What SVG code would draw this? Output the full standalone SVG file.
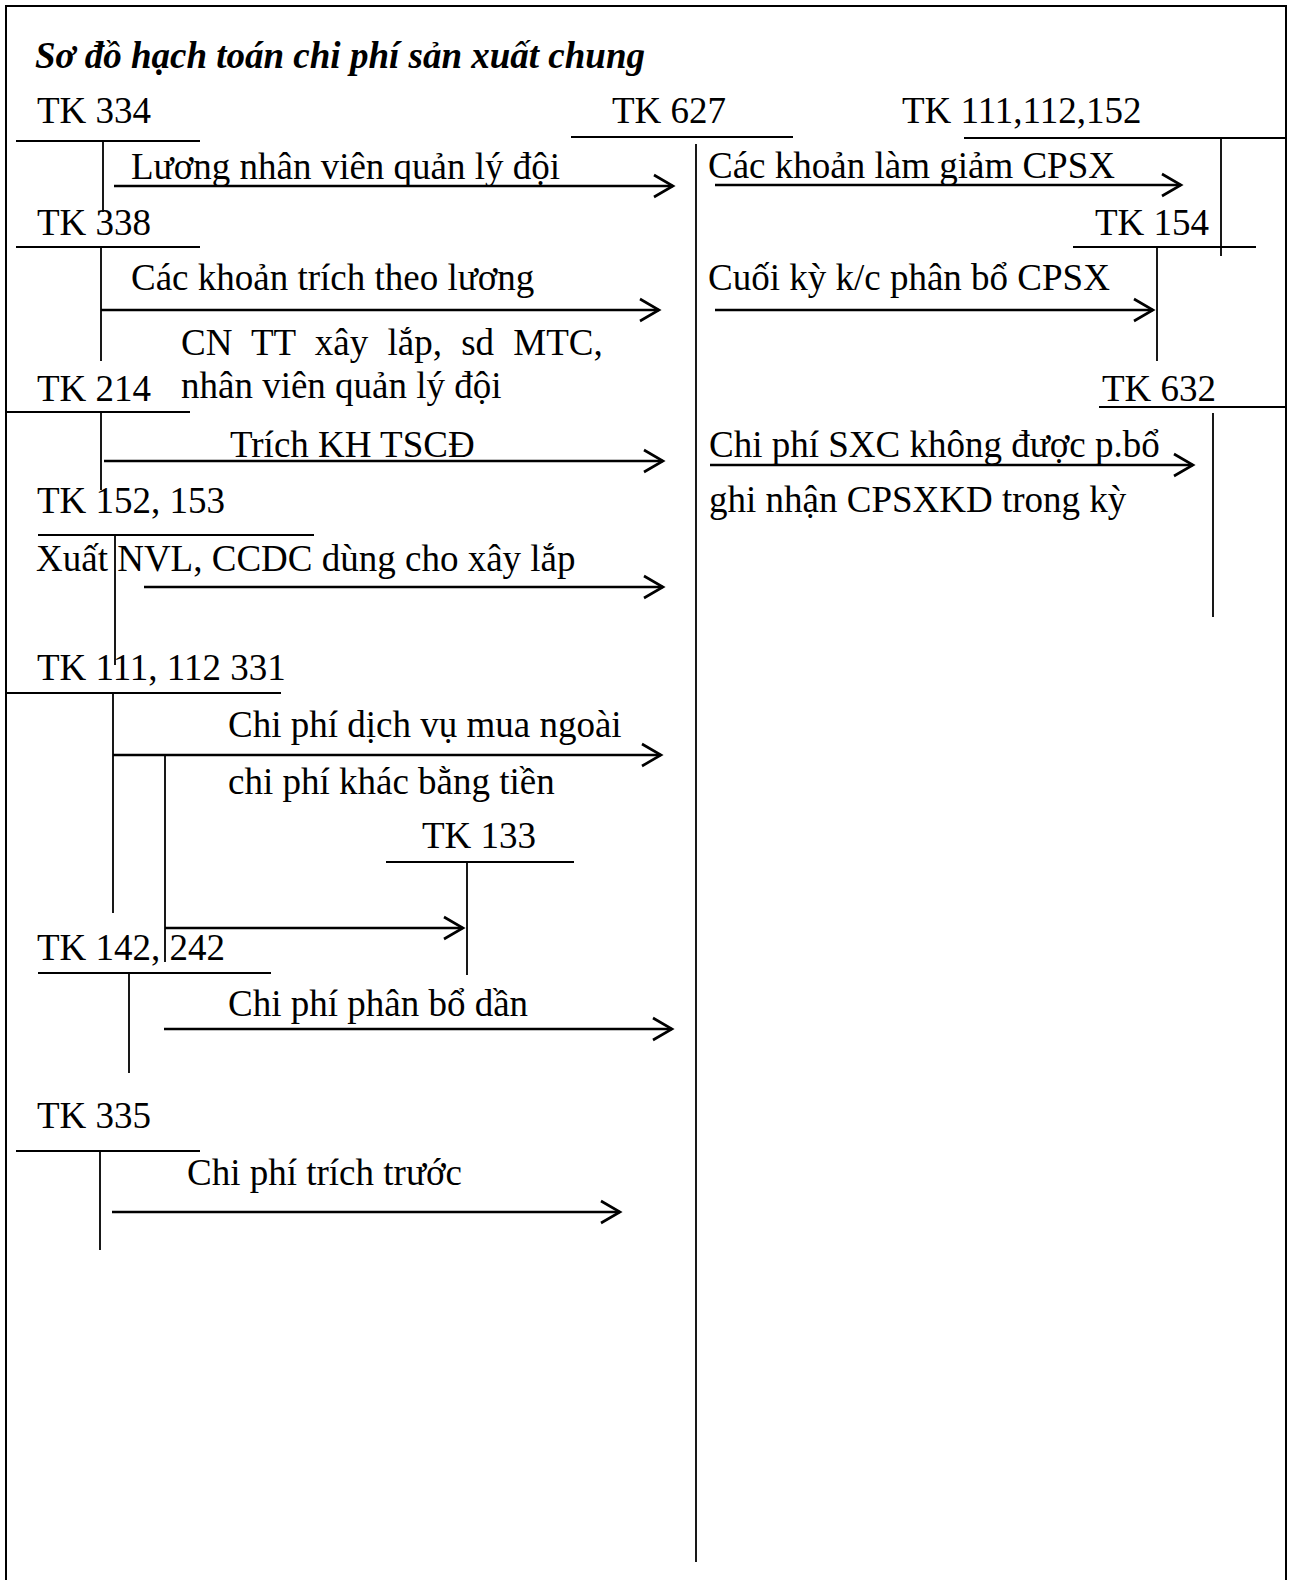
<svg xmlns="http://www.w3.org/2000/svg" width="1290" height="1580" viewBox="0 0 1290 1580">
<style>
text{font-family:"Liberation Serif","Times New Roman",serif;font-size:37px;fill:#000}
.title{font-weight:bold;font-style:italic}
.t{stroke:#000;stroke-width:1.8;fill:none}
.b{stroke:#000;stroke-width:2;fill:none}
.a{stroke:#000;stroke-width:2.6;fill:none;marker-end:url(#arr)}
</style>
<defs>
<marker id="arr" markerUnits="userSpaceOnUse" markerWidth="24" markerHeight="26" refX="19" refY="12" orient="auto" viewBox="-2 0 24 24">
<path d="M0,1 L19,12 L0,23" fill="none" stroke="#000" stroke-width="2.6"/>
</marker>
</defs>
<rect width="1290" height="1580" fill="#fff"/>
<g id="border">
<path class="b" d="M6,1580 V6 H1286 V1580"/>
</g>
<text class="title" x="35" y="68">Sơ đồ hạch toán chi phí sản xuất chung</text>

<g id="tk334"><text x="37" y="123">TK 334</text><path class="t" d="M16,141 H200 M103,141 V212"/></g>
<g id="tk338"><text x="37" y="235">TK 338</text><path class="t" d="M16,247 H200 M101,247 V361"/></g>
<g id="tk214"><text x="37" y="401">TK 214</text><path class="t" d="M7,412 H190 M101,412 V490"/></g>
<g id="tk152"><text x="37" y="513">TK 152, 153</text><path class="t" d="M38,535 H314 M115,535 V665"/></g>
<g id="tk111"><text x="37" y="680">TK 111, 112 331</text><path class="t" d="M7,693 H281 M113,693 V913 M165,755 V962"/></g>
<g id="tk133"><text x="422" y="848">TK 133</text><path class="t" d="M386,862 H574 M467,862 V975"/></g>
<g id="tk142"><text x="37" y="960">TK 142, 242</text><path class="t" d="M38,973 H271 M129,973 V1073"/></g>
<g id="tk335"><text x="37" y="1128">TK 335</text><path class="t" d="M16,1151 H200 M100,1151 V1250"/></g>

<g id="tk627"><text x="612" y="123">TK 627</text><path class="t" d="M571,137 H793 M696,144 V1562"/></g>
<g id="tk111r"><text x="902" y="123">TK 111,112,152</text><path class="t" d="M964,138 H1286 M1221,138 V256"/></g>
<g id="tk154"><text x="1095" y="235">TK 154</text><path class="t" d="M1073,247 H1256 M1157,247 V361"/></g>
<g id="tk632"><text x="1102" y="401">TK 632</text><path class="t" d="M1099,407 H1285 M1213,413 V617"/></g>

<g id="connectors">
<path class="a" d="M114,186 H673"/>
<path class="a" d="M101,310 H659"/>
<path class="a" d="M104,461 H663"/>
<path class="a" d="M144,587 H663"/>
<path class="a" d="M113,755 H661"/>
<path class="a" d="M165,928 H463"/>
<path class="a" d="M164,1029 H672"/>
<path class="a" d="M112,1212 H620"/>
<path class="a" d="M715,185 H1181"/>
<path class="a" d="M715,310 H1153"/>
<path class="a" d="M710,465 H1193"/>
</g>

<g id="labels">
<text x="131" y="179">Lương nhân viên quản lý đội</text>
<text x="131" y="290">Các khoản trích theo lương</text>
<text x="181" y="355" word-spacing="10">CN TT xây lắp, sd MTC,</text>
<text x="181" y="398">nhân viên quản lý đội</text>
<text x="230" y="457">Trích KH TSCĐ</text>
<text x="36" y="571">Xuất NVL, CCDC dùng cho xây lắp</text>
<text x="228" y="737">Chi phí dịch vụ mua ngoài</text>
<text x="228" y="794">chi phí khác bằng tiền</text>
<text x="228" y="1016">Chi phí phân bổ dần</text>
<text x="187" y="1185">Chi phí trích trước</text>
<text x="708" y="178">Các khoản làm giảm CPSX</text>
<text x="708" y="290">Cuối kỳ k/c phân bổ CPSX</text>
<text x="709" y="457">Chi phí SXC không được p.bổ</text>
<text x="709" y="512">ghi nhận CPSXKD trong kỳ</text>
</g>
</svg>
